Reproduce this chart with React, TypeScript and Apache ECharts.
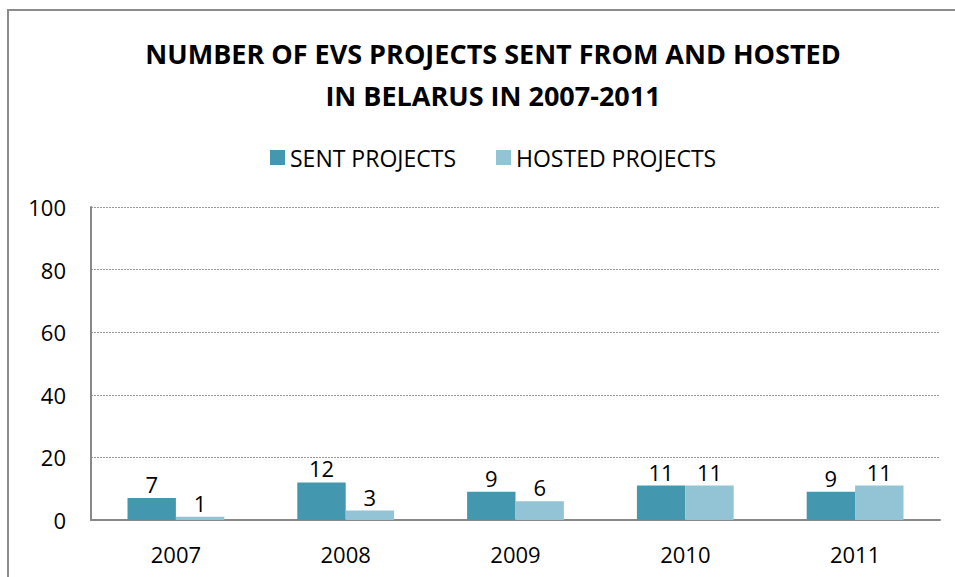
import React, { useEffect, useRef } from "react";
import * as echarts from "echarts";

const categories = ["2007", "2008", "2009", "2010", "2011"];
const sentProjects = [7, 12, 9, 11, 9];
const hostedProjects = [1, 3, 6, 11, 11];
const seriesNames = ["SENT PROJECTS", "HOSTED PROJECTS"];
const titleText = "NUMBER OF EVS PROJECTS SENT FROM AND HOSTED\nIN BELARUS IN 2007-2011";

const FONT = "'Open Sans', 'Liberation Sans', sans-serif";

export default function App() {
  const ref = useRef<HTMLDivElement>(null);
  useEffect(() => {
    if (!ref.current) return;
    const chart = echarts.init(ref.current, undefined, { renderer: "svg" });
    const labelStyle = { show: true, position: "top", fontFamily: FONT, fontSize: 22, color: "#000", distance: 3 };
    chart.setOption({
      animation: false,
      backgroundColor: "#ffffff",
      textStyle: { fontFamily: FONT },
      graphic: [
        {
          type: "rect",
          shape: { x: 8, y: 10, width: 1000, height: 700 },
          style: { fill: "none", stroke: "#8c8c8c", lineWidth: 2 },
          silent: true,
        },
      ],
      title: {
        text: titleText,
        left: 488,
        textAlign: "center",
        top: 27,
        textStyle: {
          fontFamily: FONT,
          fontWeight: "bold",
          fontSize: 27,
          color: "#000",
          lineHeight: 42,
        },
      },
      legend: {
        data: seriesNames,
        top: 141,
        left: 265,
        itemWidth: 15,
        itemHeight: 15,
        itemGap: 40,
        icon: "rect",
        textStyle: { fontFamily: FONT, fontSize: 23, color: "#000" },
      },
      grid: { left: 91, right: 15, top: 207, bottom: 57, containLabel: false },
      xAxis: {
        type: "category",
        data: categories,
        axisLine: { lineStyle: { color: "#888", width: 2 } },
        axisTick: { show: false },
        axisLabel: { fontFamily: FONT, fontSize: 22, color: "#000", margin: 23 },
      },
      yAxis: {
        type: "value",
        min: 0,
        max: 100,
        interval: 20,
        axisLine: { show: true, lineStyle: { color: "#888", width: 2 } },
        axisTick: { show: false },
        axisLabel: { fontFamily: FONT, fontSize: 22, color: "#000", margin: 25 },
        splitLine: { lineStyle: { color: "#999", type: [2, 1], width: 1 } },
      },
      series: [
        {
          name: seriesNames[0],
          type: "bar",
          data: sentProjects,
          itemStyle: { color: "#4398B0" },
          barGap: "0%",
          barCategoryGap: "43%",
          label: labelStyle,
        },
        {
          name: seriesNames[1],
          type: "bar",
          data: hostedProjects,
          itemStyle: { color: "#93C4D5" },
          label: labelStyle,
        },
      ],
    });
    return () => chart.dispose();
  }, []);
  return (
    <div
      ref={ref}
      style={{ position: "absolute", left: 0, top: 0, width: 955, height: 577 }}
    />
  );
}
